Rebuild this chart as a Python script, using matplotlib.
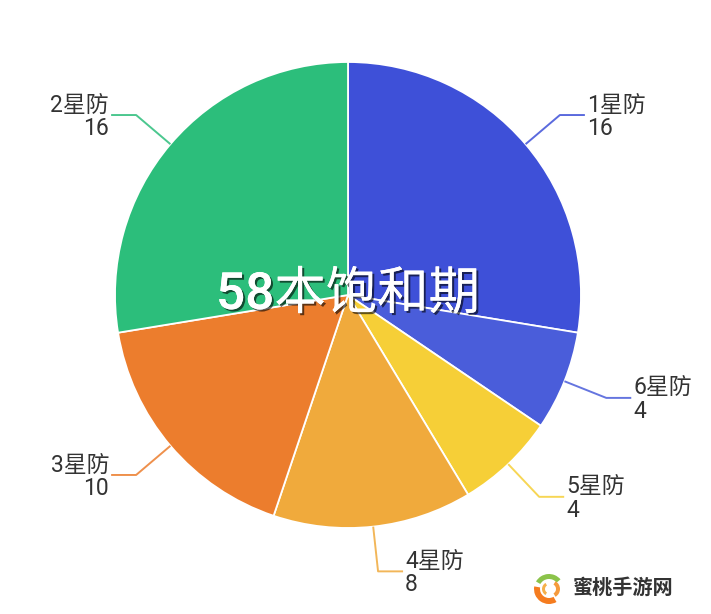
import numpy as np
import matplotlib
matplotlib.use("Agg")
import matplotlib.pyplot as plt
import matplotlib.patheffects as pe
from matplotlib.patches import Wedge

plt.rcParams['font.family'] = ['Roboto', 'Noto Sans CJK SC', 'DejaVu Sans']

categories = ['1星防', '6星防', '5星防', '4星防', '3星防', '2星防']
values = [16, 4, 4, 8, 10, 16]
colors = ['#3E50D8', '#4A5DDA', '#F6CF37', '#F0AA3C', '#EC7D2D', '#2CBE7B']
title = '58本饱和期'
watermark = '蜜桃手游网'

W, H = 711, 614
fig = plt.figure(figsize=(W / 100, H / 100), dpi=100)
ax = fig.add_axes([0, 0, 1, 1])

cx, cy, r = 348, H - 295, 233
ax.pie(values, colors=colors, startangle=90, counterclock=False,
       center=(cx, cy), radius=r,
       wedgeprops=dict(edgecolor='white', linewidth=1.3))
ax.set_xlim(0, W)
ax.set_ylim(0, H)
ax.set_aspect('equal')
ax.axis('off')

total = sum(values)
cum = 0
for name, v, c in zip(categories, values, colors):
    mid = (cum + v / 2) / total * 360.0
    cum += v
    ang = np.deg2rad(90 - mid)
    x0, y0 = cx + r * np.cos(ang), cy + r * np.sin(ang)
    x1, y1 = cx + (r + 45) * np.cos(ang), cy + (r + 45) * np.sin(ang)
    side = 1 if np.cos(ang) >= 0 else -1
    x2 = x1 + side * 25
    ax.plot([x0, x1, x2], [y0, y1, y1], color=c, lw=1.4, alpha=0.85,
            solid_capstyle='butt', zorder=3)
    ha = 'left' if side > 0 else 'right'
    tx = x2 + side * 2
    ax.text(tx, y1 + 10, name, ha=ha, va='center', fontsize=16.5, color='#333333')
    ax.text(tx, y1 - 13.5, str(v), ha=ha, va='center', fontsize=16.5, color='#333333')

ax.text(cx, H - 295, title, ha='center', va='center', fontsize=37,
        color='white', fontweight='medium', zorder=5,
        path_effects=[pe.withSimplePatchShadow(offset=(1.5, -1.5),
                                               shadow_rgbFace='black', alpha=0.6),
                      pe.Normal()])

# watermark logo
lx, ly = 549, H - 589
ax.add_patch(Wedge((lx, ly), 15, 40, 150, width=5, facecolor='#8BC34A', edgecolor='none', zorder=4))
ax.add_patch(Wedge((lx, ly), 15, 170, 300, width=6, facecolor='#F57C1F', edgecolor='none', zorder=4))
ax.add_patch(Wedge((lx + 2, ly), 9, 300, 60, width=4, facecolor='#F59A3C', edgecolor='none', zorder=4))
ax.add_patch(Wedge((lx, ly), 7, 120, 240, width=3, facecolor='#F5B04A', edgecolor='none', zorder=4))
ax.text(573, H - 588, watermark, ha='left', va='center', fontsize=14.5,
        fontweight='bold', color='#333333')

fig.savefig('out.png', dpi=100, facecolor='white')
